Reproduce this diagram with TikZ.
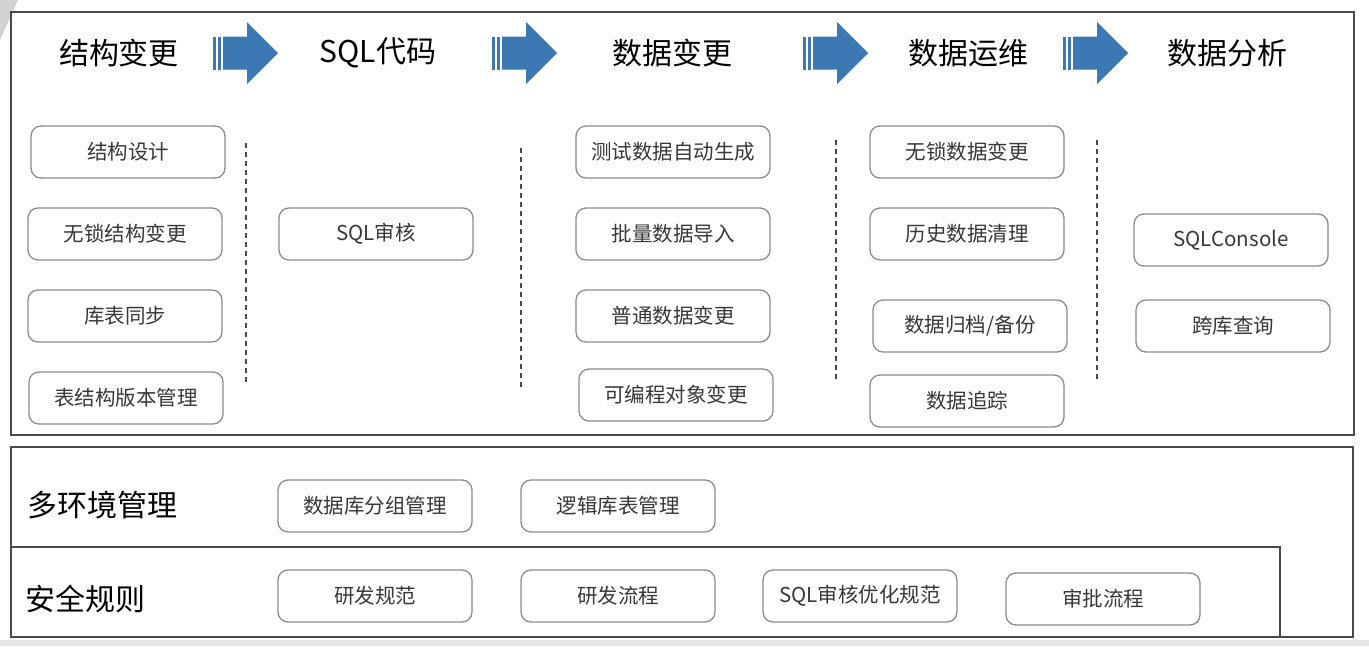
\documentclass[tikz,border=0pt]{standalone}
\usepackage{fontspec}
\setmainfont{Noto Sans CJK SC}
\definecolor{arrowblue}{HTML}{3B78B4}
\definecolor{boxgray}{HTML}{8C8C8C}
\definecolor{framegray}{HTML}{4A4A4A}
\definecolor{txt}{HTML}{383838}
\tikzset{
  box/.style={draw=boxgray, line width=1.3pt, rounded corners=10pt, minimum width=194pt, minimum height=52pt, inner sep=0pt, text=txt, font=\fontsize{20.5}{20.5}\selectfont},
  title/.style={inner sep=0pt, text=black, font=\fontsize{30}{30}\selectfont},
  rowlabel/.style={inner sep=0pt, anchor=west, text=black, font=\fontsize{30}{30}\selectfont},
  frame/.style={draw=framegray, line width=1.8pt},
  sep/.style={draw=framegray, line width=1.2pt, dash pattern=on 5pt off 4pt},
  pics/flowarrow/.style={code={
    \fill[arrowblue] (0,-16.5) rectangle (3,16.5);
    \fill[arrowblue] (5,-16.5) rectangle (8,16.5);
    \fill[arrowblue] (10,-16.5) -- (34,-16.5) -- (34,-31) -- (65,0) -- (34,31) -- (34,16.5) -- (10,16.5) -- cycle;
  }}
}
\begin{document}
\begin{tikzpicture}[x=1pt,y=-1pt]
\useasboundingbox (0,0) rectangle (1369,646);
\fill[white] (0,0) rectangle (1369,646);
\fill[gray!20] (0,640) rectangle (1369,646);
\fill[gray!35] (0,0) -- (18,0) -- (0,40) -- cycle;
% frames
\draw[frame] (11,12) rectangle (1354,435);
\draw[frame] (11,447) rectangle (1353,637);
\draw[draw=framegray, line width=1.2pt] (11,547) -- (1280,547) -- (1280,637);
% titles
\node[title] (t1) at (119,53) {结构变更};
\node[title] (t2) at (378,53) {SQL代码};
\node[title] (t3) at (672,53) {数据变更};
\node[title] (t4) at (968,53) {数据运维};
\node[title] (t5) at (1227,53) {数据分析};
% arrows
\pic at (213,53) {flowarrow};
\pic at (492,53) {flowarrow};
\pic at (803,53) {flowarrow};
\pic at (1063,53) {flowarrow};
% column 1
\node[box] (a1) at (128,152) {结构设计};
\node[box] (a2) at (125,234) {无锁结构变更};
\node[box] (a3) at (125,316) {库表同步};
\node[box] (a4) at (126,398) {表结构版本管理};
% column 2
\node[box] (b1) at (376,234) {SQL审核};
% column 3
\node[box] (c1) at (673,152) {测试数据自动生成};
\node[box] (c2) at (673,234) {批量数据导入};
\node[box] (c3) at (673,316) {普通数据变更};
\node[box] (c4) at (676,395) {可编程对象变更};
% column 4
\node[box] (d1) at (967,152) {无锁数据变更};
\node[box] (d2) at (967,234) {历史数据清理};
\node[box] (d3) at (970,326) {数据归档/备份};
\node[box] (d4) at (967,401) {数据追踪};
% column 5
\node[box] (e1) at (1231,240) {SQLConsole};
\node[box] (e2) at (1233,326) {跨库查询};
% separators
\draw[sep] (246,143) -- (246,385);
\draw[sep] (521,148) -- (521,390);
\draw[sep] (836,140) -- (836,382);
\draw[sep] (1097,140) -- (1097,382);
% bottom rows
\node[rowlabel] (l1) at (27,505) {多环境管理};
\node[rowlabel] (l2) at (25,599) {安全规则};
\node[box] (f1) at (375,506) {数据库分组管理};
\node[box] (f2) at (618,506) {逻辑库表管理};
\node[box] (g1) at (375,596) {研发规范};
\node[box] (g2) at (618,596) {研发流程};
\node[box] (g3) at (860,596) {SQL审核优化规范};
\node[box] (g4) at (1103,599) {审批流程};
\end{tikzpicture}
\end{document}
